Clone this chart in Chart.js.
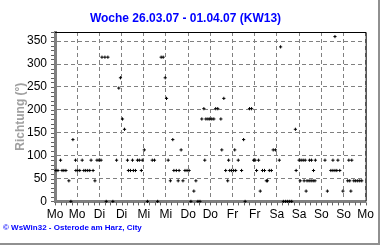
<!DOCTYPE html>
<html>
<head>
<meta charset="utf-8">
<script src="https://cdn.jsdelivr.net/npm/chart.js@4.4.1/dist/chart.umd.min.js"></script>
<style>
  html, body { margin: 0; padding: 0; background: #fff; }
  canvas { display: block; }
</style>
</head>
<body>
<canvas id="wind" width="380" height="245"></canvas>
<script>
// Stunden ab Montag 00:00, Windrichtung in Grad
var stunden = [
    0.5, 1.6, 3.0, 3.8, 4.8, 5.9, 7.5, 8.6, 9.7, 11.1, 11.3, 12.3, 13.4, 14.7, 15.6, 16.6, 17.7, 18.8, 19.5, 20.6,
    21.6, 22.7, 23.8, 24.9, 25.4, 27.0, 27.7, 28.6, 31.3, 33.3, 34.5, 35.4, 36.5, 37.6, 39.2, 39.7, 40.8, 41.9, 42.4, 43.5,
    44.6, 45.6, 46.7, 47.2, 48.3, 50.0, 52.6, 53.8, 55.5, 57.4, 58.5, 59.6, 60.3, 61.2, 62.4, 63.7, 64.3, 65.6, 66.6, 67.1,
    68.2, 69.2, 70.3, 71.4, 72.5, 73.5, 75.1, 76.2, 77.3, 78.4, 79.4, 80.5, 81.0, 81.6, 82.7, 83.7, 84.8, 85.9, 86.9, 88.0,
    89.7, 90.2, 91.3, 92.3, 93.4, 93.9, 94.5, 95.5, 96.6, 97.2, 97.7, 99.1, 100.9, 102.0, 102.8, 105.2, 106.3, 107.4, 108.2, 109.0,
    110.1, 111.0, 112.2, 113.3, 114.3, 114.9, 115.9, 117.0, 118.0, 119.2, 121.3, 122.0, 123.5, 124.7, 125.8, 126.9, 128.0, 130.0, 130.4, 132.0,
    132.6, 133.1, 134.2, 134.7, 135.3, 135.8, 136.3, 137.4, 137.6, 138.5, 138.7, 139.6, 139.8, 140.6, 140.8, 146.0, 147.3, 149.2, 150.3, 150.3,
    151.4, 151.4, 152.4, 153.0, 154.0, 155.7, 158.3, 158.9, 159.4, 160.0, 160.5, 161.6, 162.6, 163.7, 164.8, 165.9
];
var richtung = [
    67.5, 67.5, 90, 67.5, 67.5, 67.5, 45, 0, 135, 90, 67.5, 67.5, 67.5, 90, 67.5, 67.5, 67.5, 67.5, 90, 67.5,
    45, 90, 90, 90, 315, 315, 0, 315, 0, 90, 247.5, 270, 180, 157.5, 90, 67.5, 67.5, 90, 67.5, 67.5,
    90, 90, 67.5, 90, 112.5, 0, 90, 90, 0, 315, 315, 270, 225, 90, 45, 135, 67.5, 67.5, 45, 67.5,
    112.5, 45, 67.5, 67.5, 67.5, 0, 22.5, 45, 0, 0, 180, 202.5, 90, 180, 180, 180, 180, 180, 202.5, 202.5,
    180, 112.5, 225, 67.5, 45, 90, 67.5, 67.5, 67.5, 112.5, 67.5, 90, 67.5, 135, 0, 202.5, 202.5, 90, 90, 67.5,
    90, 22.5, 67.5, 67.5, 45, 45, 67.5, 67.5, 112.5, 112.5, 90, 337.5, 0, 0, 0, 0, 0, 157.5, 67.5, 90,
    45, 90, 90, 45, 90, 22.5, 45, 45, 90, 45, 90, 45, 67.5, 45, 90, 90, 22.5, 67.5, 90, 67.5,
    360, 67.5, 67.5, 90, 67.5, 22.5, 45, 90, 45, 22.5, 90, 45, 45, 45, 45, 45
];
var tage = ['Mo', 'Mo', 'Di', 'Di', 'Mi', 'Mi', 'Do', 'Do', 'Fr', 'Fr', 'Sa', 'Sa', 'So', 'So', 'Mo'];
var yWerte = [0, 50, 100, 150, 200, 250, 300, 350];

var punkte = stunden.map(function (h, i) { return { x: h, y: richtung[i] }; });

/* Rahmen, Hilfsstriche an den Achsen, grauer Bildrand */
var rahmenPlugin = {
    id: 'rahmen',
    afterDraw: function (chart) {
        var ctx = chart.ctx, a = chart.chartArea;
        var xs = chart.scales.x, ys = chart.scales.y;
        ctx.save();
        ctx.strokeStyle = '#000';
        ctx.lineWidth = 1;
        ctx.beginPath();
        ctx.moveTo(a.left, Math.round(a.top) + 0.5);
        ctx.lineTo(a.right + 0.5, Math.round(a.top) + 0.5);
        ctx.lineTo(a.right + 0.5, a.bottom);
        ctx.stroke();

        ctx.strokeStyle = '#606060';
        ctx.beginPath();
        for (var v = 0; v <= 370; v += 10) {
            var y = Math.round(ys.getPixelForValue(v)) + 0.5;
            ctx.moveTo(a.left - 4, y);
            ctx.lineTo(a.left - 1, y);
        }
        for (var h = 0; h <= 168; h += 3) {
            var x = Math.round(xs.getPixelForValue(h)) + 0.5;
            ctx.moveTo(x, a.bottom + 1);
            ctx.lineTo(x, a.bottom + 4);
        }
        ctx.stroke();

        ctx.fillStyle = '#909090';
        ctx.fillRect(378, 0, 2, 245);
        ctx.fillRect(0, 243, 380, 2);
        ctx.restore();
    }
};

var ctx = document.getElementById('wind').getContext('2d');
new Chart(ctx, {
    type: 'scatter',
    data: {
        datasets: [{
            data: punkte,
            pointStyle: 'cross',
            pointRadius: 1.6,
            pointBorderWidth: 1,
            borderColor: '#000',
            backgroundColor: '#000',
            clip: 5
        }]
    },
    plugins: [rahmenPlugin],
    options: {
        responsive: false,
        animation: false,
        devicePixelRatio: 1,
        layout: { padding: { left: 3, right: 12, top: 0, bottom: 0 } },
        plugins: {
            legend: { display: false },
            tooltip: { enabled: false },
            title: {
                display: true,
                text: 'Woche 26.03.07 - 01.04.07 (KW13)',
                color: '#0000ff',
                font: { family: "'Liberation Sans', Arial, sans-serif", size: 12, weight: 'bold' },
                padding: { top: 11, bottom: 6.6 }
            },
            subtitle: {
                display: true,
                position: 'bottom',
                align: 'start',
                text: '© WsWin32 - Osterode am Harz, City',
                color: '#0000ff',
                font: { family: "'Liberation Sans', Arial, sans-serif", size: 8, weight: 'bold' },
                padding: { top: 0, bottom: 12 }
            }
        },
        scales: {
            x: {
                type: 'linear',
                min: 0,
                max: 168,
                afterBuildTicks: function (s) {
                    s.ticks = tage.map(function (t, i) { return { value: i * 12 }; });
                },
                afterFit: function (s) { s.height = 22; },
                ticks: {
                    autoSkip: false,
                    maxRotation: 0,
                    padding: 6,
                    color: '#000',
                    font: { family: "'Liberation Sans', Arial, sans-serif", size: 12 },
                    callback: function (v, i) { return tage[i]; }
                },
                grid: { color: '#808080', lineWidth: 1, drawTicks: false },
                border: { color: '#808080', width: 3, dash: [4, 3] }
            },
            y: {
                min: 0,
                max: 370,
                afterBuildTicks: function (s) {
                    s.ticks = yWerte.map(function (v) { return { value: v }; });
                },
                afterFit: function (s) { s.width = 52; },
                ticks: {
                    padding: 8,
                    color: '#000',
                    font: { family: "'Liberation Sans', Arial, sans-serif", size: 12 }
                },
                grid: { color: '#808080', lineWidth: 1, drawTicks: false },
                border: { color: '#808080', width: 3, dash: [4, 3] },
                title: {
                    display: true,
                    text: 'Richtung (°)',
                    color: '#a0a0a0',
                    font: { family: "'Liberation Sans', Arial, sans-serif", size: 12, weight: 'bold' },
                    padding: { top: 10, bottom: 0 }
                }
            }
        }
    }
});
</script>
</body>
</html>
